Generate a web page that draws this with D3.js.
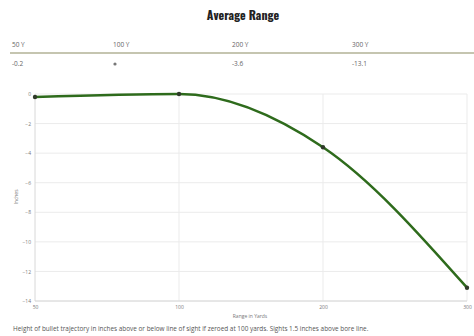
<!DOCTYPE html>
<html>
<head>
<meta charset="utf-8">
<script src="https://cdn.jsdelivr.net/npm/d3@7"></script>
<style>
  html, body { margin: 0; padding: 0; background: #fff; }
  svg { display: block; }
</style>
</head>
<body>
<svg id="chart" width="474" height="336"></svg>
<script>
// Trajectory drop (inches) at each range
const ranges = ["50", "100", "200", "300"];
const rangeLabels = ["50 Y", "100 Y", "200 Y", "300 Y"];
const drops = [-0.2, 0, -3.6, -13.1];
const tableValues = ["-0.2", null, "-3.6", "-13.1"]; // null = zero point marker
const yTicks = [0, -2, -4, -6, -8, -10, -12, -14];

const svg = d3.select("#chart");
const W = 474, H = 336;
const margin = { left: 35, right: 7, top: 94, bottom: 35 };

// Title
svg.append("text")
  .attr("x", 243).attr("y", 20)
  .attr("text-anchor", "middle")
  .attr("font-family", "Oswald, 'Liberation Sans Narrow', 'DejaVu Sans Condensed', sans-serif")
  .attr("font-weight", "bold")
  .attr("font-size", 12)
  .attr("fill", "#222")
  .text("Average Range");

// Summary table above the chart
const colX = [12, 113, 232, 352];
const table = svg.append("g").attr("font-family", "'Open Sans', sans-serif").attr("font-size", 6.5).attr("fill", "#666");
rangeLabels.forEach((l, i) => {
  table.append("text").attr("x", colX[i]).attr("y", 47).text(l);
});
table.append("line")
  .attr("x1", 10).attr("x2", 474).attr("y1", 53).attr("y2", 53)
  .attr("stroke", "#8c8c62").attr("stroke-width", 1.2);
tableValues.forEach((v, i) => {
  if (v === null) {
    table.append("circle").attr("cx", colX[i] + 2).attr("cy", 64).attr("r", 1.6).attr("fill", "#777");
  } else {
    table.append("text").attr("x", colX[i]).attr("y", 66).text(v);
  }
});

// Scales
const x = d3.scalePoint().domain(ranges).range([margin.left, W - margin.right]);
const y = d3.scaleLinear().domain([-14, 0]).range([301, 94]);

const g = svg.append("g");

// Horizontal grid
g.selectAll("line.hgrid").data(yTicks).join("line")
  .attr("class", "hgrid")
  .attr("x1", margin.left).attr("x2", W - margin.right)
  .attr("y1", d => y(d)).attr("y2", d => y(d))
  .attr("stroke", "#ebebeb").attr("stroke-width", 1);

// Vertical grid
g.selectAll("line.vgrid").data(ranges.slice(1)).join("line")
  .attr("class", "vgrid")
  .attr("x1", d => x(d)).attr("x2", d => x(d))
  .attr("y1", y(0)).attr("y2", y(-14))
  .attr("stroke", "#ebebeb").attr("stroke-width", 1);

// Y axis line
g.append("line")
  .attr("x1", margin.left).attr("x2", margin.left)
  .attr("y1", y(0)).attr("y2", y(-14))
  .attr("stroke", "#d8d8d8").attr("stroke-width", 1);
// X axis line
g.append("line")
  .attr("x1", margin.left).attr("x2", W - margin.right)
  .attr("y1", y(-14)).attr("y2", y(-14))
  .attr("stroke", "#d8d8d8").attr("stroke-width", 1);

// Y axis labels
const yAxis = d3.axisLeft(y).tickValues(yTicks).tickSize(0).tickPadding(4);
const ya = g.append("g").attr("transform", `translate(${margin.left},0)`).call(yAxis);
ya.select(".domain").remove();
ya.selectAll("text").attr("font-family", "'Open Sans', sans-serif").attr("font-size", 5).attr("fill", "#777");

// X axis labels
const xAxis = d3.axisBottom(x).tickSize(0).tickPadding(4);
const xa = g.append("g").attr("transform", `translate(0,${y(-14)})`).call(xAxis);
xa.select(".domain").remove();
xa.selectAll("text").attr("font-family", "'Open Sans', sans-serif").attr("font-size", 5).attr("fill", "#777");

// Axis titles
g.append("text")
  .attr("x", 250).attr("y", 318)
  .attr("text-anchor", "middle")
  .attr("font-family", "'Open Sans', sans-serif").attr("font-size", 5).attr("fill", "#777")
  .text("Range in Yards");
g.append("text")
  .attr("transform", "translate(18,197) rotate(-90)")
  .attr("text-anchor", "middle")
  .attr("font-family", "'Open Sans', sans-serif").attr("font-size", 5).attr("fill", "#777")
  .text("Inches");

// Trajectory line
const line = d3.line()
  .x((d, i) => x(ranges[i]))
  .y(d => y(d))
  .curve(d3.curveMonotoneX);
g.append("path")
  .datum(drops)
  .attr("d", line)
  .attr("fill", "none")
  .attr("stroke", "#2e6b1c")
  .attr("stroke-width", 2.5);

// Points
g.selectAll("circle.pt").data(drops).join("circle")
  .attr("class", "pt")
  .attr("cx", (d, i) => x(ranges[i]))
  .attr("cy", d => y(d))
  .attr("r", 2.2)
  .attr("fill", "#2f3a2a");

// Footnote
svg.append("text")
  .attr("x", 13).attr("y", 331)
  .attr("font-family", "'Open Sans', sans-serif").attr("font-size", 6.4).attr("fill", "#555")
  .text("Height of bullet trajectory in inches above or below line of sight if zeroed at 100 yards. Sights 1.5 inches above bore line.");
</script>
</body>
</html>
